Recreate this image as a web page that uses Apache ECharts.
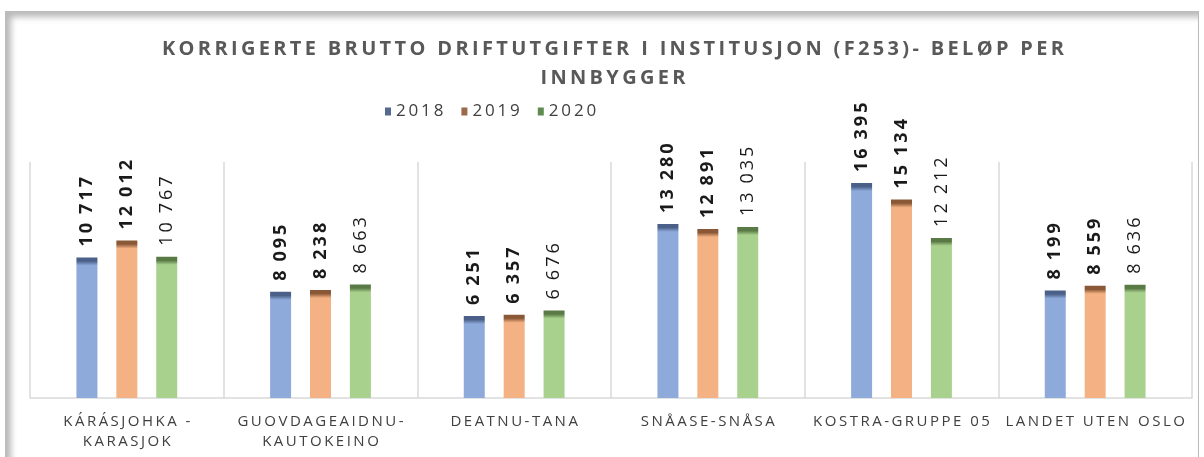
<!DOCTYPE html>
<html>
<head>
<meta charset="utf-8">
<script src="https://cdn.jsdelivr.net/npm/echarts@6/dist/echarts.min.js"></script>
<style>
  html, body { margin: 0; padding: 0; background: #fff; }
  #frame {
    position: absolute; left: 5px; top: 11px; width: 1192px; height: 452px;
    border: 1px solid #bcbcbc;
    box-shadow: inset 5px 5px 6px rgba(0, 0, 0, 0.28);
  }
  #chart { position: absolute; left: 0; top: 0; width: 1204px; height: 457px; }
</style>
</head>
<body>
<div id="frame"></div>
<div id="chart"></div>
<script>
const categories = [
  'KÁRÁSJOHKA -\nKARASJOK',
  'GUOVDAGEAIDNU-\nKAUTOKEINO',
  'DEATNU-TANA',
  'SNÅASE-SNÅSA',
  'KOSTRA-GRUPPE 05',
  'LANDET UTEN OSLO',
]
const years = ['2018', '2019', '2020']
const v2018 = [10717, 8095, 6251, 13280, 16395, 8199]
const v2019 = [12012, 8238, 6357, 12891, 15134, 8559]
const v2020 = [10767, 8663, 6676, 13035, 12212, 8636]

const TITLE = 'KORRIGERTE BRUTTO DRIFTUTGIFTER I INSTITUSJON (F253)- BELØP PER\nINNBYGGER'

const COLORS = {
  '2018': { base: '#8eaadb', dark: '#4b6088', legend: '#56698f' },
  '2019': { base: '#f4b183', dark: '#8a5836', legend: '#9a6a4a' },
  '2020': { base: '#a9d18e', dark: '#5a7a45', legend: '#5f8a52' },
}

const Y_MAX = 18000
const PLOT_H = 236
const FONT = '"Open Sans", "DejaVu Sans", sans-serif'

// excel draws these texts letter-spaced, fake it with narrow spaces
function spaced(s, sp) {
  return s.split('\n').map(l => Array.from(l).join(sp)).join('\n')
}
function fmt(n) {
  return String(n).replace(/\B(?=(\d{3})+(?!\d))/g, '\u2006')
}

function barData(vals, c) {
  return vals.map(v => {
    const off = Math.min(0.12, 8 / (v * PLOT_H / Y_MAX))
    return {
      value: v,
      itemStyle: {
        color: new echarts.graphic.LinearGradient(0, 0, 0, 1, [
          { offset: 0, color: c.dark },
          { offset: off * 0.45, color: c.dark },
          { offset: off, color: c.base },
          { offset: 1, color: c.base },
        ]),
      },
    }
  })
}

function makeSeries(name, vals, bold) {
  const c = COLORS[name]
  return {
    name, type: 'bar', barWidth: 21, barGap: '90%',
    data: barData(vals, c),
    label: {
      show: true, position: 'top', rotate: 90, align: 'left', verticalAlign: 'middle',
      distance: 11,
      fontFamily: FONT, fontSize: 18, fontWeight: bold ? 'bold' : 'normal',
      color: '#1a1a1a',
      formatter: p => spaced(fmt(p.value), '\u2006'),
    },
  }
}

const chart = echarts.init(document.getElementById('chart'), null, { renderer: 'canvas' })
chart.setOption({
  backgroundColor: 'transparent',
  animation: false,
  title: {
    text: spaced(TITLE, '\u2006'),
    left: 608, top: 30, textAlign: 'center',
    textStyle: { fontFamily: FONT, fontSize: 20, fontWeight: 'bold', color: '#595959', lineHeight: 29 },
  },
  legend: {
    data: years.map(y => ({ name: y, itemStyle: { color: COLORS[y].legend } })),
    left: 380, top: 98,
    icon: 'rect', itemWidth: 6, itemHeight: 8, itemGap: 18,
    formatter: n => spaced(n, '\u2006'),
    textStyle: { fontFamily: FONT, fontSize: 17, color: '#404040' },
  },
  grid: { left: 30, right: 12, top: 162, bottom: 59, containLabel: false },
  xAxis: {
    type: 'category', data: categories,
    axisLine: { lineStyle: { color: '#d9d9d9', width: 1.5 } },
    axisTick: { show: false },
    splitLine: { show: true, lineStyle: { color: '#d9d9d9', width: 1.5 } },
    axisLabel: {
      interval: 0, margin: 14, lineHeight: 20,
      fontFamily: FONT, fontSize: 15, color: '#404040',
      formatter: v => spaced(v, '\u2009'),
    },
  },
  yAxis: { type: 'value', min: 0, max: Y_MAX, show: false },
  series: [
    makeSeries('2018', v2018, true),
    makeSeries('2019', v2019, true),
    makeSeries('2020', v2020, false),
  ],
})
</script>
</body>
</html>
